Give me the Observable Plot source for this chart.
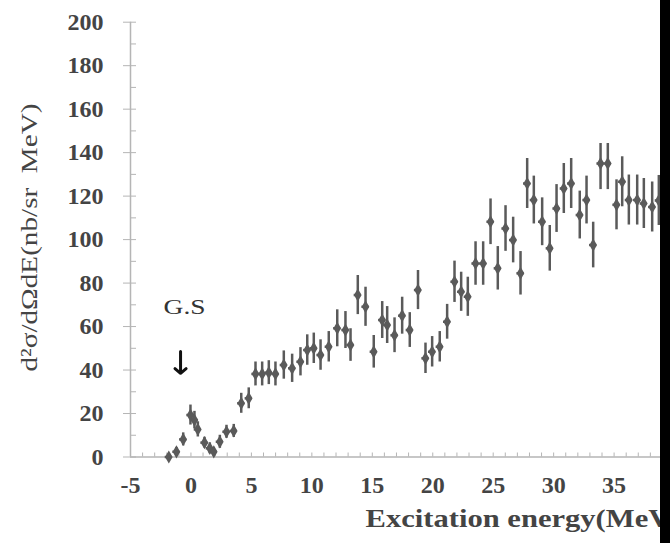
<!DOCTYPE html>
<html>
<head>
<meta charset="utf-8">
<script src="https://cdn.jsdelivr.net/npm/d3@7"></script>
<script src="https://cdn.jsdelivr.net/npm/@observablehq/plot@0.6"></script>
<style>
  html, body { margin: 0; padding: 0; background: #fff; overflow: hidden; }
  #wrap { position: relative; width: 670px; height: 543px; overflow: hidden; background: #fff; }
  #wrap svg { position: absolute; left: 0; top: 0; max-width: none !important; width: 740px; height: 543px; }
  #wrap g[aria-label$="tick label"] text { font-weight: bold; fill: #444; }
  #mask { position: absolute; left: 513px; top: 0; width: 147px; height: 143px; background: #fff; }
  #edge { position: absolute; left: 660px; top: 0; width: 10px; height: 543px; background: #000; }
</style>
</head>
<body>
<div id="wrap"><div id="chart"></div><div id="mask"></div><div id="edge"></div></div>
<script>
// Excitation energy (MeV), cross section d2σ/dΩdE (nb/sr MeV), and its error
const energy = [-1.83, -1.20, -0.64, -0.04, 0.29, 0.57, 1.12, 1.56, 1.89, 2.39,
  2.94, 3.54, 4.16, 4.78, 5.34, 5.89, 6.44, 6.99, 7.68, 8.37,
  9.06, 9.62, 10.16, 10.72, 11.40, 12.10, 12.78, 13.20, 13.80, 14.44,
  15.12, 15.82, 16.23, 16.84, 17.47, 18.10, 18.78, 19.40, 19.95, 20.58,
  21.19, 21.80, 22.35, 22.90, 23.54, 24.17, 24.78, 25.38, 26.02, 26.65,
  27.26, 27.81, 28.36, 29.05, 29.68, 30.24, 30.84, 31.45, 32.16, 32.72,
  33.27, 33.88, 34.48, 35.20, 35.67, 36.22, 36.91, 37.46, 38.15, 38.70];
const crossSection = [0.0, 2.4, 8.1, 19.3, 17.0, 12.7, 6.6, 4.0, 2.4, 7.0,
  11.6, 12.0, 24.7, 27.0, 38.2, 38.2, 38.8, 38.2, 42.3, 40.8,
  43.8, 49.2, 50.0, 46.9, 50.7, 59.2, 58.4, 51.5, 74.5, 69.1,
  48.4, 63.0, 60.7, 56.0, 65.0, 58.4, 76.8, 45.4, 48.4, 50.7,
  62.2, 80.6, 76.0, 73.7, 89.0, 89.0, 108.2, 86.8, 105.1, 99.8,
  84.5, 125.8, 118.2, 108.2, 96.0, 114.3, 123.5, 125.8, 111.3, 118.2,
  97.5, 135.0, 135.0, 116.0, 126.6, 118.2, 118.2, 116.6, 115.0, 118.0];
const errors = [1.5, 2, 3, 4.6, 4, 3.5, 2.5, 2.5, 2, 3,
  3, 3, 4.6, 4.8, 5.5, 5.5, 5.5, 5.5, 6.5, 6.5,
  6.5, 7, 7, 7, 7, 8.5, 8.5, 7.5, 9, 9,
  7.5, 8.5, 8.5, 8, 8.5, 8, 9, 7, 7, 7,
  8, 9.5, 9, 9, 10, 10, 10.5, 10, 10.5, 10.5,
  10, 11.5, 11, 11, 10.5, 11, 11.5, 11.5, 11, 11,
  10.5, 12, 12, 11.5, 11.5, 11.5, 11.5, 11.5, 11.5, 11.5];
const binHalfWidth = 0.3;
const xTicks = [-5, 0, 5, 10, 15, 20, 25, 30, 35, 40, 45];
const yTicks = [0, 20, 40, 60, 80, 100, 120, 140, 160, 180, 200];
const xTitle = "Excitation energy(MeV)";
const yTitle = "d\u00B2\u03C3/d\u03A9dE(nb/sr  MeV)";
const gsLabel = [{e: -0.53, v: 68.9, text: "G.S"}];
const gsArrow = [{e: -0.86, top: 48.5, bottom: 38.5}];

const data = energy.map((e, i) => ({e, v: crossSection[i], err: errors[i]}));
const ink = "#5a5a5a";

const chart = Plot.plot({
  width: 740, height: 543,
  marginLeft: 130, marginRight: 5.5, marginTop: 21.7, marginBottom: 86.5,
  style: {background: "white", fontFamily: "'Liberation Serif', serif", fontSize: "24px", color: "#444"},
  x: {domain: [-5, 45]},
  y: {domain: [0, 200]},
  marks: [
    Plot.ruleY([0], {stroke: "#b5b5b5", strokeWidth: 1.5}),
    Plot.ruleX([-5], {stroke: "#b5b5b5", strokeWidth: 1.5}),
    Plot.axisX({ticks: d3.range(-5, 46, 1), tickSize: -4, fill: "none", stroke: "#b5b5b5", label: null}),
    Plot.axisX({ticks: xTicks, tickSize: 0, tickPadding: 19, tickFormat: d => String(d), label: null}),
    Plot.axisY({ticks: d3.range(0, 201, 10), tickSize: -6, fill: "none", stroke: "#b5b5b5", label: null}),
    Plot.axisY({ticks: yTicks, tickSize: 7, fill: "none", stroke: "#b5b5b5", label: null}),
    Plot.axisY({ticks: yTicks, tickSize: 0, tickPadding: 27, tickFormat: d => String(d), label: null}),
    Plot.ruleX(data, {x: "e", y1: d => d.v - d.err, y2: d => d.v + d.err, stroke: ink, strokeWidth: 2.5}),
    Plot.ruleY(data, {y: "v", x1: d => d.e - binHalfWidth, x2: d => d.e + binHalfWidth, stroke: ink, strokeWidth: 2.5}),
    Plot.dot(data, {x: "e", y: "v", symbol: "diamond", r: 4, fill: ink}),
    Plot.text(gsLabel, {x: "e", y: "v", text: "text", fontSize: 21, fill: "#333"}),
    Plot.arrow(gsArrow, {x: "e", y1: "top", y2: "bottom", stroke: "#111", strokeWidth: 3, headLength: 9, headAngle: 100}),
    Plot.text([xTitle], {frameAnchor: "bottom-left", dx: 235, dy: 70, textAnchor: "start", fontWeight: "bold", fontSize: 25, fill: "#444"}),
    Plot.text([yTitle], {frameAnchor: "left", textAnchor: "middle", dx: -101, dy: -2, rotate: -90, fontSize: 23, fill: "#444"})
  ]
});
document.getElementById("chart").appendChild(chart);

// the reference's lettering is stretched; fit each label to its measured length
const stretch = {[xTitle]: 315, [yTitle]: 268, "G.S": 42};
d3.select(chart).selectAll("text").each(function () {
  const len = stretch[this.textContent];
  if (len) d3.select(this).attr("textLength", len).attr("lengthAdjust", "spacingAndGlyphs");
});
</script>
</body>
</html>
